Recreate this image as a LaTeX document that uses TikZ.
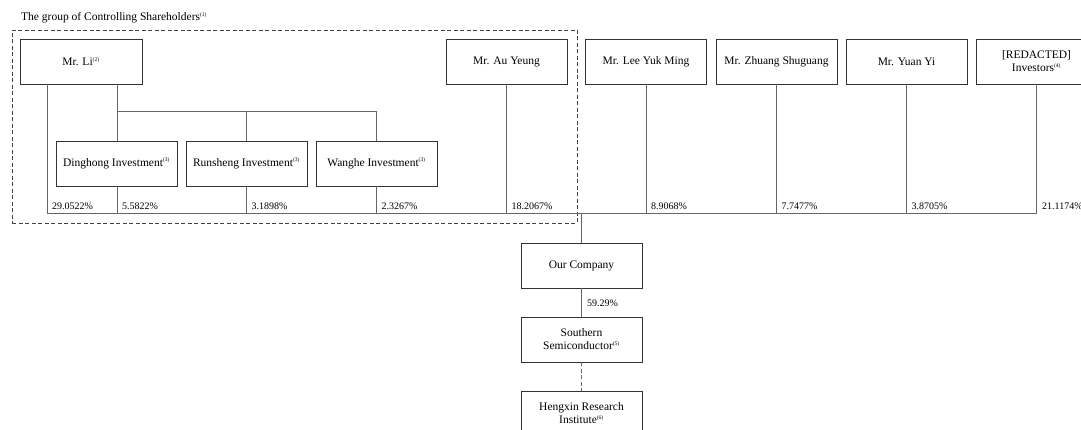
\documentclass[tikz,border=0pt]{standalone}
\usepackage{fontspec}
\setmainfont{Liberation Serif}
\newcommand\boxfont{\fontsize{11.5}{13}\selectfont}
\newcommand\pctfont{\fontsize{10}{12}\selectfont}
\newcommand\supnote[1]{\textsuperscript{\fontsize{5.5}{5.5}\selectfont(#1)}}
\begin{document}
\begin{tikzpicture}[x=1pt,y=-1pt,
  box/.style={draw=black!80, line width=0.8pt, minimum width=121pt, minimum height=45pt, inner sep=1pt, align=center, font=\boxfont},
  conn/.style={draw=black!60, line width=1pt},
  pct/.style={anchor=base west, inner sep=0pt, font=\pctfont},
  grp/.style={draw=black!75, line width=0.8pt, dash pattern=on 4pt off 2.5pt, inner sep=0pt},
  ttl/.style={anchor=base west, inner sep=0pt, font=\boxfont}]
\clip (0,0) rectangle (1081,430);
\fill[white] (0,0) rectangle (1081,430);
% group box
\node[grp, minimum width=565pt, minimum height=193pt] (grp) at (294.5,126.5) {};
\node[ttl] (title) at (21,20.5) {The group of Controlling Shareholders\supnote{1}};
% top row
\node[box, minimum width=122pt] (li) at (81,61.5) {Mr. Li\supnote{2}};
\node[box] (au) at (506.5,61.5) {Mr. Au Yeung};
\node[box] (lee) at (646,61.5) {Mr. Lee Yuk Ming};
\node[box] (zh) at (776.5,61.5) {Mr. Zhuang Shuguang};
\node[box] (yu) at (906.5,61.5) {Mr. Yuan Yi};
\node[box] (red) at (1036.5,61.5) {[REDACTED]\\Investors\supnote{4}};
% second row
\node[box] (ding) at (116.5,163.5) {Dinghong Investment\supnote{3}};
\node[box] (run) at (246.5,163.5) {Runsheng Investment\supnote{3}};
\node[box] (wan) at (376.5,163.5) {Wanghe Investment\supnote{3}};
% lower chain
\node[box] (our) at (581.5,265.5) {Our Company};
\node[box] (sou) at (581.5,339.5) {Southern\\Semiconductor\supnote{5}};
\node[box] (hen) at (581.5,413.5) {Hengxin Research\\Institute\supnote{6}};
% bus coordinates
\coordinate (busL) at (47,214);
\coordinate (br) at (117,112);
% connectors
\draw[conn] (li.south -| busL) -- (busL);
\draw[conn] (li.south -| br) -- (ding.north -| br);
\draw[conn] (br) -- (br -| wan.north) -- (wan.north);
\draw[conn] (br -| run.north) -- (run.north);
\draw[conn] (ding.south -| br) -- (busL -| br);
\draw[conn] (run.south) -- (run.south |- busL);
\draw[conn] (wan.south) -- (wan.south |- busL);
\draw[conn] (au.south) -- (au.south |- busL);
\draw[conn] (lee.south) -- (lee.south |- busL);
\draw[conn] (zh.south) -- (zh.south |- busL);
\draw[conn] (yu.south) -- (yu.south |- busL);
\draw[conn] (red.south) -- (red.south |- busL);
\draw[conn] (busL) -- (red.south |- busL);
\draw[conn] (our.north |- busL) -- (our.north);
\draw[conn] (our.south) -- (sou.north);
\draw[conn, dash pattern=on 4pt off 2.5pt] (sou.south) -- (hen.north);
% percentages
\node[pct] (p1) at (52,209.5) {29.0522\%};
\node[pct] (p2) at (122,209.5) {5.5822\%};
\node[pct] (p3) at (251.5,209.5) {3.1898\%};
\node[pct] (p4) at (381.5,209.5) {2.3267\%};
\node[pct] (p5) at (511.5,209.5) {18.2067\%};
\node[pct] (p6) at (651,209.5) {8.9068\%};
\node[pct] (p7) at (781.5,209.5) {7.7477\%};
\node[pct] (p8) at (911.5,209.5) {3.8705\%};
\node[pct] (p9) at (1042,209.5) {21.1174\%};
\node[pct] (p10) at (587,306) {59.29\%};
\end{tikzpicture}
\end{document}
